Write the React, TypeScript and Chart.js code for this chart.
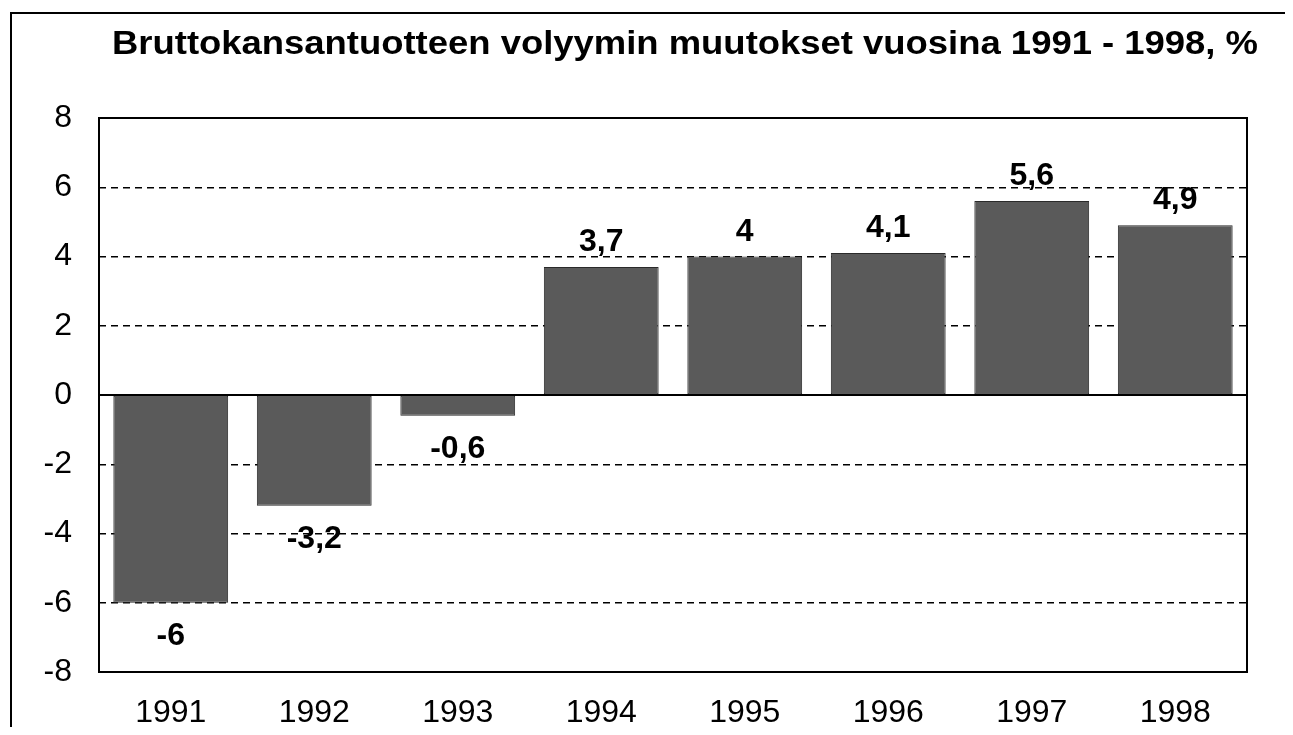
import React, { useEffect, useRef } from "react";
import { Chart, registerables } from "chart.js";

Chart.register(...registerables);

const TITLE = "Bruttokansantuotteen volyymin muutokset vuosina 1991 - 1998, %";
const categories = ["1991", "1992", "1993", "1994", "1995", "1996", "1997", "1998"];
const values = [-6, -3.2, -0.6, 3.7, 4, 4.1, 5.6, 4.9];
const valueLabels = ["-6", "-3,2", "-0,6", "3,7", "4", "4,1", "5,6", "4,9"];
const yMin = -8;
const yMax = 8;
const yStep = 2;

const FONT = "'Liberation Sans', Arial, Helvetica, sans-serif";

const decorPlugin = {
  id: "decor",
  beforeDraw(chart: any) {
    const ctx = chart.ctx;
    ctx.save();
    ctx.fillStyle = "#ffffff";
    ctx.fillRect(0, 0, chart.width, chart.height);
    // outer frame (left and top edges visible)
    ctx.strokeStyle = "#000";
    ctx.lineWidth = 2;
    ctx.beginPath();
    ctx.moveTo(3, chart.height + 2);
    ctx.lineTo(3, 5);
    ctx.lineTo(chart.width + 2, 5);
    ctx.stroke();
    // title
    ctx.font = `bold 33px ${FONT}`;
    ctx.fillStyle = "#000";
    ctx.textBaseline = "alphabetic";
    ctx.textAlign = "left";
    const w = ctx.measureText(TITLE).width;
    const target = 1146;
    const sx = target / w;
    ctx.translate(677 - target / 2, 46);
    ctx.scale(sx, 1);
    ctx.fillText(TITLE, 0, 0);
    ctx.restore();
  },
  afterDatasetsDraw(chart: any) {
    const ctx = chart.ctx;
    const area = chart.chartArea;
    const y = chart.scales.y;
    ctx.save();
    // zero line
    const y0 = y.getPixelForValue(0);
    ctx.strokeStyle = "#000";
    ctx.lineWidth = 2;
    ctx.beginPath();
    ctx.moveTo(area.left, y0);
    ctx.lineTo(area.right, y0);
    ctx.stroke();
    // plot frame
    ctx.lineWidth = 2;
    ctx.strokeRect(area.left, area.top, area.right - area.left, area.bottom - area.top);
    // value labels
    const meta = chart.getDatasetMeta(0);
    ctx.font = `bold 32px ${FONT}`;
    ctx.fillStyle = "#000";
    ctx.textAlign = "center";
    ctx.textBaseline = "alphabetic";
    meta.data.forEach((bar: any, i: number) => {
      const v = values[i];
      const ty = v >= 0 ? bar.y - 16 : bar.y + 42;
      ctx.fillText(valueLabels[i], bar.x, ty);
    });
    ctx.restore();
  },
};

export default function App() {
  const ref = useRef<HTMLCanvasElement | null>(null);

  useEffect(() => {
    if (!ref.current) return;
    const chart = new Chart(ref.current, {
      type: "bar",
      data: {
        labels: categories,
        datasets: [
          {
            data: values,
            backgroundColor: "#5a5a5a",
            borderColor: "#2a2a2a",
            borderWidth: 1,
            borderSkipped: false,
            categoryPercentage: 1,
            barPercentage: 0.8,
          },
        ],
      },
      options: {
        animation: false,
        responsive: true,
        maintainAspectRatio: false,
        layout: { padding: { left: 20, right: 38, top: 110, bottom: 0 } },
        plugins: {
          legend: { display: false },
          title: { display: false },
          tooltip: { enabled: false },
        },
        scales: {
          x: {
            type: "category",
            grid: { display: false, drawTicks: false },
            border: { display: false },
            ticks: {
              color: "#000",
              font: { family: FONT, size: 32 },
              padding: 22,
              maxRotation: 0,
              autoSkip: false,
            },
            afterFit: (scale: any) => {
              scale.height = 55;
            },
          },
          y: {
            min: yMin,
            max: yMax,
            grid: {
              drawTicks: false,
              lineWidth: 1.5,
              color: (c: any) => {
                const v = c.tick ? c.tick.value : null;
                return v === 0 || v === yMin || v === yMax ? "rgba(0,0,0,0)" : "#000";
              },
            },
            border: { display: false, dash: [7, 5] },
            ticks: {
              stepSize: yStep,
              color: "#000",
              font: { family: FONT, size: 32 },
              padding: 27,
              callback: (v: any) => String(v),
            },
            afterFit: (scale: any) => {
              scale.width = 71;
            },
          },
        },
      },
      plugins: [decorPlugin],
    });
    return () => chart.destroy();
  }, []);

  return (
    <div style={{ width: 1277, height: 719, position: "relative" }}>
      <canvas ref={ref} />
    </div>
  );
}
